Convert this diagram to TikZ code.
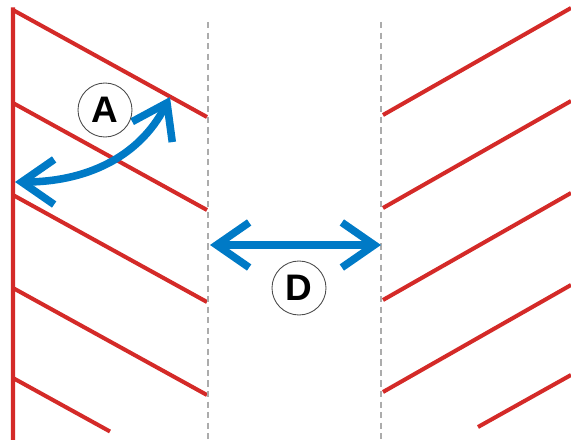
\documentclass[tikz,border=0pt]{standalone}
\usepackage{fontspec}
\setmainfont{Liberation Sans}
\usepackage{tikz}
\usetikzlibrary{arrows.meta}

\definecolor{hatchred}{RGB}{212,42,40}
\definecolor{gapblue}{RGB}{0,122,198}

\tikzset{
    hatch/.style={draw=hatchred, line width=2.3pt},
    guide/.style={draw=gray!65, line width=0.7pt, dash pattern=on 3.5pt off 2.5pt},
    gap/.style={draw=gapblue, line width=4.3pt,
        {Straight Barb[length=6.5mm, width=9mm]}-{Straight Barb[length=6.5mm, width=9mm]}},
    tag/.style={circle, draw=black!70, line width=0.5pt, minimum size=1.08cm,
        inner sep=0pt, font=\fontsize{21}{21}\selectfont\bfseries}
}

\begin{document}
\begin{tikzpicture}
            \useasboundingbox (0, 0) rectangle (11.42, 8.8);

            \draw[hatch]
                (0.26, 8.65) -- (0.26, 0)
                (0.26, 1.24) -- ++(1.94, -1.07)
                (9.56, 0.26) -- (11.42, 1.3)
            ;
            \foreach \y in {8.6, 6.74, 4.9, 3.04}
                \draw[hatch] (0.26, \y) -- ++(3.88, -2.14);
            \foreach \y in {6.5, 4.64, 2.8, 0.96}
                \draw[hatch] (7.66, \y) -- (11.42, \y + 2.14);

            \draw[guide]
                (4.16, 8.36) -- (4.16, 0)
                (7.62, 8.36) -- (7.62, 0)
            ;

            \coordinate (gapL) at (4.2, 3.9);
            \coordinate (gapR) at (7.62, 3.9);
            \coordinate (angL) at (0.3, 5.16);
            \coordinate (angR) at (3.4, 6.86);

            \draw[gap] (gapL) -- (gapR);
            \draw[gap] (angL) to[out=0, in=243] (angR);

            \node[tag] (A) at (2.1, 6.6) {A};
            \node[tag] (D) at (5.98, 3.04) {D};
        \end{tikzpicture}
\end{document}
